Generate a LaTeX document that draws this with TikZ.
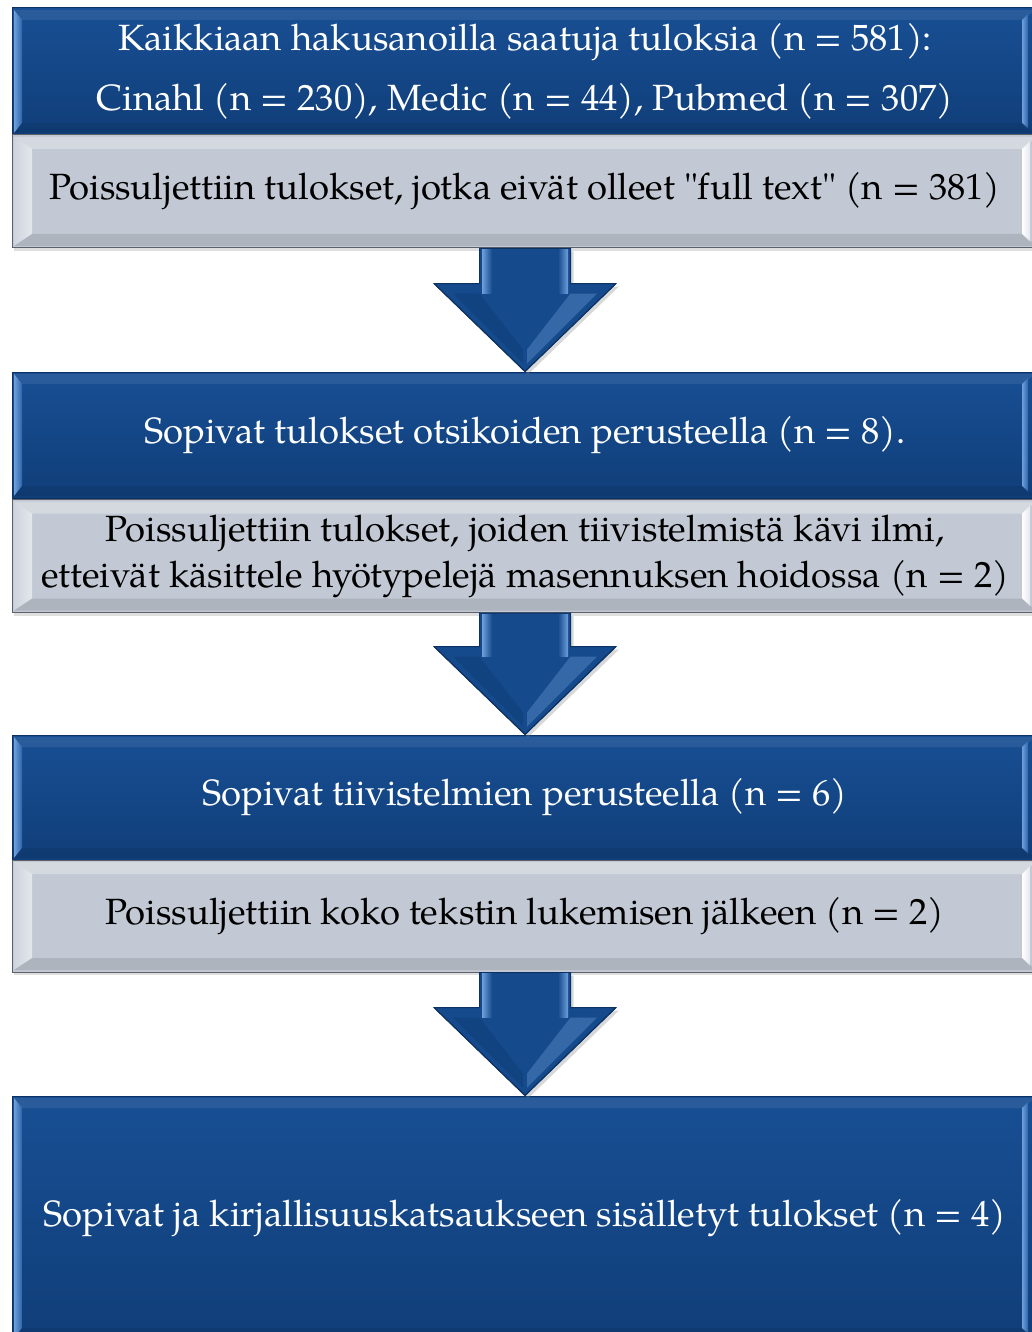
\documentclass[tikz,border=0pt]{standalone}
\usepackage{fontspec}
\setmainfont{TeX Gyre Pagella}
\newfontfamily\qfont{TeX Gyre Pagella}
\usetikzlibrary{calc,shadows}
\definecolor{bmain}{HTML}{154A8C}
\definecolor{btop}{HTML}{184F94}
\definecolor{bbot}{HTML}{103E79}
\definecolor{bdark}{HTML}{0C3263}
\definecolor{bhi}{HTML}{6FA0DC}
\definecolor{bmid}{HTML}{2D64AA}
\definecolor{gmain}{HTML}{C2C9D4}
\definecolor{glight}{HTML}{E3E7ED}
\definecolor{gdark}{HTML}{5C6169}
\tikzset{
  boxfont/.style={font=\fontsize{36.5}{46}\selectfont},
  bluebox/.style={rectangle, draw=bdark, line width=1pt, top color=btop, bottom color=bbot,
    minimum width=1026pt, text=white, boxfont, align=center, inner sep=0pt,
    drop shadow={opacity=0.25, shadow xshift=2pt, shadow yshift=-3pt},
    path picture={
      \coordinate (pa) at (path picture bounding box.north west);
      \coordinate (pb) at (path picture bounding box.south east);
      \shade[left color=bhi, right color=bmid]
        ($(pa)+(2,2)$) -- ($(pa)+(10,12)$) -- ($(pa|-pb)+(10,-12)$) -- ($(pa|-pb)+(2,-2)$) -- cycle;
      \fill[white, opacity=0.08]
        ($(pa)+(2,2)$) -- ($(pb|-pa)+(-2,2)$) -- ($(pb|-pa)+(-16,12)$) -- ($(pa)+(10,12)$) -- cycle;
      \shade[left color=bhi, right color=bmid]
        ($(pb|-pa)+(-16,12)$) -- ($(pb|-pa)+(-10,6)$) -- ($(pb)+(-10,-6)$) -- ($(pb)+(-16,-12)$) -- cycle;
      \fill[bdark, opacity=0.35]
        ($(pa|-pb)+(10,-12)$) -- ($(pb)+(-16,-12)$) -- ($(pb)+(-2,-2)$) -- ($(pa|-pb)+(2,-2)$) -- cycle;
    }},
  graybox/.style={rectangle, draw=gdark, line width=1pt, fill=gmain,
    minimum width=1026pt, text=black, boxfont, align=center, inner sep=0pt,
    drop shadow={opacity=0.25, shadow xshift=2pt, shadow yshift=-3pt},
    path picture={
      \coordinate (pa) at (path picture bounding box.north west);
      \coordinate (pb) at (path picture bounding box.south east);
      \shade[left color=gmain!60!glight, right color=glight]
        ($(pa)+(2,2)$) -- ($(pa)+(20,14)$) -- ($(pa|-pb)+(20,-14)$) -- ($(pa|-pb)+(2,-2)$) -- cycle;
      \fill[white, opacity=0.3]
        ($(pa)+(2,2)$) -- ($(pb|-pa)+(-2,2)$) -- ($(pb|-pa)+(-16,14)$) -- ($(pa)+(20,14)$) -- cycle;
      \shade[left color=white, right color=glight]
        ($(pb|-pa)+(-16,14)$) -- ($(pb|-pa)+(-8,6)$) -- ($(pb)+(-8,-6)$) -- ($(pb)+(-16,-14)$) -- cycle;
      \fill[gdark, opacity=0.2]
        ($(pa|-pb)+(20,-14)$) -- ($(pb)+(-16,-14)$) -- ($(pb)+(-2,-2)$) -- ($(pa|-pb)+(2,-2)$) -- cycle;
    }},
  arrowst/.style={fill=bmain, draw=bdark, line width=1pt, line join=miter,
    drop shadow={opacity=0.3, shadow xshift=3pt, shadow yshift=-3pt}},
}
\newcommand\dnarrow[2]{%
  \path (#1.south) coordinate (at) (#2.north) coordinate (ab);
  \path[arrowst] ($(at)+(-45.5,0)$) -- ($(at)+(45.5,0)$) -- ($(ab)+(45.5,-88)$) -- ($(ab)+(91,-88)$)
     -- (ab) -- ($(ab)+(-91,-88)$) -- ($(ab)+(-45.5,-88)$) -- cycle;
  \shade[left color=bhi, right color=bmain] ($(at)+(-43,1)$) rectangle ($(ab)+(-33,-78)$);
  \shade[left color=bmain, right color=bhi] ($(at)+(33,1)$) rectangle ($(ab)+(43,-78)$);
  \fill[bhi, opacity=0.35] ($(ab)+(45.5,-78)$) -- ($(ab)+(72,-78)$) -- ($(ab)+(2,-8)$) -- ($(ab)+(2,-22)$) -- cycle;
  \fill[bdark, opacity=0.25] ($(ab)+(-45.5,-78)$) -- ($(ab)+(-72,-78)$) -- ($(ab)+(-2,-8)$) -- ($(ab)+(-2,-22)$) -- cycle;
  \draw[bdark, line width=1pt] ($(ab)+(-91,-88)$) -- (ab) -- ($(ab)+(91,-88)$);
}
\begin{document}
\begin{tikzpicture}[x=1pt,y=-1pt]
\useasboundingbox (0,0) rectangle (1032,1332);
\fill[white] (0,0) rectangle (1032,1332);
\node[bluebox, minimum height=127pt] (b1) at (525,71.5)
  {\raisebox{-2pt}{Kaikkiaan hakusanoilla saatuja tuloksia (n = 581):}\\[16pt]
   Cinahl (n = 230), Medic (n = 44), Pubmed (n = 307)};
\node[graybox, minimum height=113pt] (g1) at (525,191.5)
  {Poissuljettiin tulokset, jotka eivät olleet {\qfont"}full text{\qfont"} (n = 381)};
\node[bluebox, minimum height=126pt] (b2) at (525,435)
  {Sopivat tulokset otsikoiden perusteella (n = 8).};
\node[graybox, minimum height=113pt] (g2) at (525,556)
  {Poissuljettiin tulokset, joiden tiivistelmistä kävi ilmi,\\
   etteivät käsittele hyötypelejä masennuksen hoidossa (n = 2)};
\node[bluebox, minimum height=125pt] (b3) at (525,797.5)
  {Sopivat tiivistelmien perusteella (n = 6)};
\node[graybox, minimum height=112pt] (g3) at (525,916)
  {Poissuljettiin koko tekstin lukemisen jälkeen (n = 2)};
\node[bluebox, minimum height=244pt] (b4) at (525,1218)
  {Sopivat ja kirjallisuuskatsaukseen sisälletyt tulokset (n = 4)};
\dnarrow{g1}{b2}
\dnarrow{g2}{b3}
\dnarrow{g3}{b4}
\end{tikzpicture}
\end{document}
